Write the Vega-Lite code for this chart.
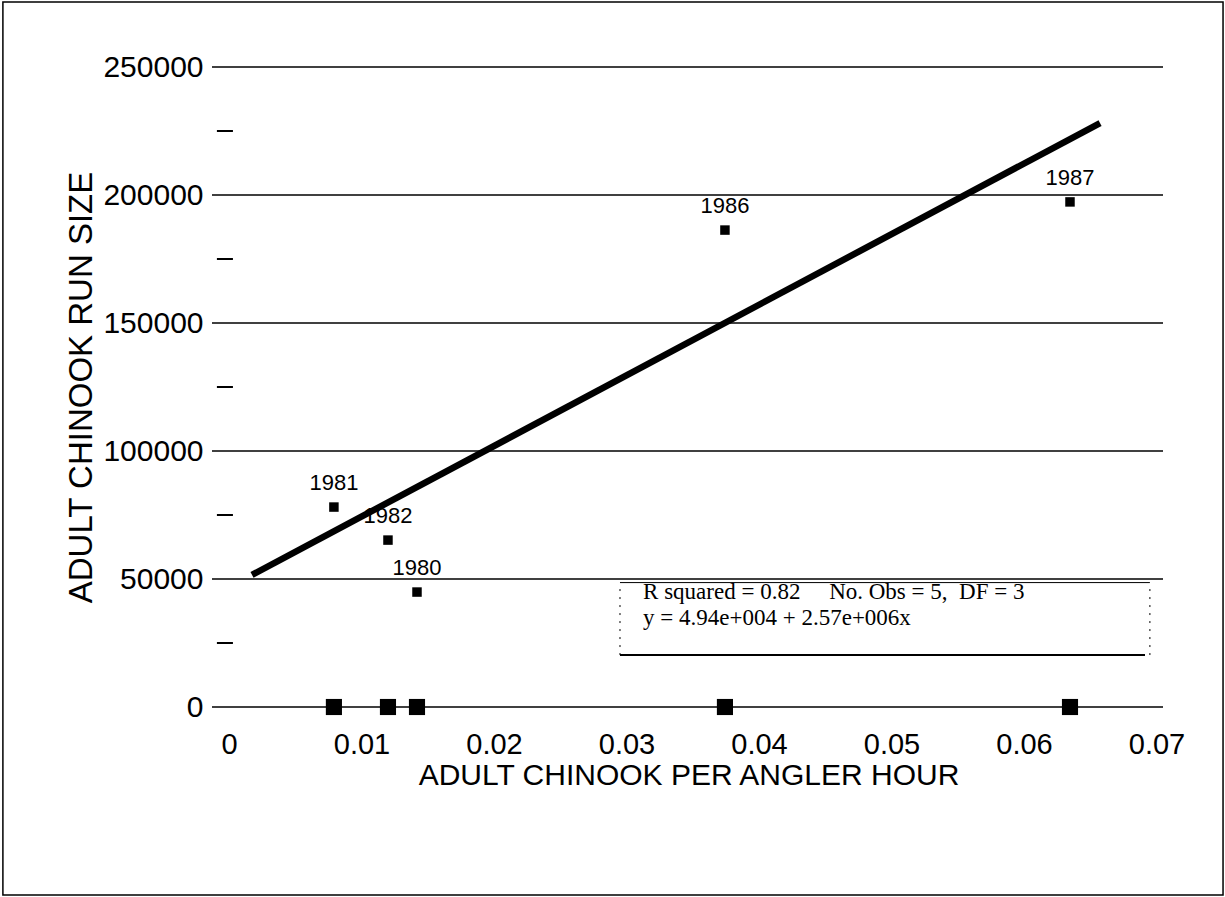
{
  "$schema": "https://vega.github.io/schema/vega-lite/v6.json",
  "width": 953,
  "height": 640,
  "autosize": {"type": "none"},
  "padding": {"left": 212, "top": 67, "right": 60, "bottom": 190},
  "background": "white",
  "config": {"view": {"stroke": null}, "font": "Liberation Sans"},
  "datasets": {
    "border": [{"x": -0.01706, "x2": 0.07502, "y": -73440, "y2": 275390}],
    "grid": [
      {"x": -0.00128, "x2": 0.07049, "y": 0},
      {"x": -0.00128, "x2": 0.07049, "y": 50000},
      {"x": -0.00128, "x2": 0.07049, "y": 100000},
      {"x": -0.00128, "x2": 0.07049, "y": 150000},
      {"x": -0.00128, "x2": 0.07049, "y": 200000},
      {"x": -0.00128, "x2": 0.07049, "y": 250000}
    ],
    "minor": [
      {"x": -0.00091, "x2": 0.0003, "y": 25000},
      {"x": -0.00091, "x2": 0.0003, "y": 75000},
      {"x": -0.00091, "x2": 0.0003, "y": 125000},
      {"x": -0.00091, "x2": 0.0003, "y": 175000},
      {"x": -0.00091, "x2": 0.0003, "y": 225000}
    ],
    "fit": [
      {"x": 0.00174, "y": 51600},
      {"x": 0.06574, "y": 228100}
    ],
    "obs": [
      {"year": "1980", "x": 0.01419, "y": 44900},
      {"year": "1981", "x": 0.00792, "y": 78100},
      {"year": "1982", "x": 0.012, "y": 65200},
      {"year": "1986", "x": 0.03743, "y": 186300},
      {"year": "1987", "x": 0.06347, "y": 197300}
    ],
    "rug": [
      {"x": 0.01419, "y": 0},
      {"x": 0.00792, "y": 0},
      {"x": 0.012, "y": 0},
      {"x": 0.03743, "y": 0},
      {"x": 0.06347, "y": 0}
    ],
    "boxlines": [
      {"x": 0.02951, "x2": 0.06913, "y": 20300, "w": 2},
      {"x": 0.02951, "x2": 0.0695, "y": 48600, "w": 1}
    ],
    "boxsides": [
      {"x": 0.02951, "y": 20300, "y2": 48000},
      {"x": 0.0695, "y": 20300, "y2": 48000}
    ],
    "notes": [
      {"x": 0.03125, "y": 44900, "label": "R squared = 0.82\u00a0\u00a0\u00a0\u00a0\u00a0No. Obs = 5,\u00a0\u00a0DF = 3"},
      {"x": 0.03125, "y": 34800, "label": "y = 4.94e+004 + 2.57e+006x"}
    ]
  },
  "encoding": {
    "x": {
      "field": "x",
      "type": "quantitative",
      "scale": {"domain": [-0.00128, 0.07064], "nice": false, "zero": false},
      "axis": {
        "values": [0, 0.01, 0.02, 0.03, 0.04, 0.05, 0.06, 0.07],
        "labelExpr": "datum.value == 0 ? '0' : format(datum.value, '.2f')",
        "domain": false,
        "ticks": false,
        "grid": false,
        "labelFont": "Liberation Sans",
        "labelFontSize": 29,
        "labelColor": "black",
        "labelPadding": 23,
        "labelFlush": false,
        "labelOverlap": false,
        "title": "ADULT CHINOOK PER ANGLER HOUR",
        "titleFont": "Liberation Sans",
        "titleFontSize": 30,
        "titleFontWeight": "normal",
        "titleColor": "black",
        "titlePadding": 1
      }
    },
    "y": {
      "field": "y",
      "type": "quantitative",
      "scale": {"domain": [0, 250000], "nice": false, "zero": false},
      "axis": {
        "values": [0, 50000, 100000, 150000, 200000, 250000],
        "labelExpr": "format(datum.value, 'd')",
        "domain": false,
        "ticks": false,
        "grid": false,
        "labelFont": "Liberation Sans",
        "labelFontSize": 30,
        "labelColor": "black",
        "labelPadding": 9,
        "labelFlush": false,
        "labelOverlap": false,
        "title": "ADULT CHINOOK RUN SIZE",
        "titleFont": "Liberation Sans",
        "titleFontSize": 33,
        "titleFontWeight": "normal",
        "titleColor": "black",
        "titlePadding": 4
      }
    }
  },
  "layer": [
    {
      "data": {"name": "border"},
      "mark": {"type": "rect", "fill": null, "stroke": "black", "strokeWidth": 1.5, "clip": false},
      "encoding": {"x2": {"field": "x2"}, "y2": {"field": "y2"}}
    },
    {
      "data": {"name": "grid"},
      "mark": {"type": "rule", "stroke": "black", "strokeWidth": 1.5},
      "encoding": {"x2": {"field": "x2"}}
    },
    {
      "data": {"name": "minor"},
      "mark": {"type": "rule", "stroke": "black", "strokeWidth": 2},
      "encoding": {"x2": {"field": "x2"}}
    },
    {
      "data": {"name": "boxlines"},
      "mark": {"type": "rule", "stroke": "black"},
      "encoding": {"x2": {"field": "x2"}, "strokeWidth": {"field": "w", "type": "quantitative", "scale": null}}
    },
    {
      "data": {"name": "boxsides"},
      "mark": {"type": "rule", "stroke": "black", "strokeWidth": 1, "strokeDash": [2, 6]},
      "encoding": {"y2": {"field": "y2"}}
    },
    {
      "data": {"name": "fit"},
      "mark": {"type": "line", "stroke": "black", "strokeWidth": 6.5, "strokeCap": "butt"},
      "encoding": {}
    },
    {
      "data": {"name": "obs"},
      "mark": {"type": "point", "shape": "square", "filled": true, "color": "black", "size": 90, "opacity": 1},
      "encoding": {}
    },
    {
      "data": {"name": "rug"},
      "mark": {"type": "point", "shape": "square", "filled": true, "color": "black", "size": 260, "opacity": 1},
      "encoding": {}
    },
    {
      "data": {"name": "obs"},
      "mark": {"type": "text", "font": "Liberation Sans", "fontSize": 22, "color": "black", "dy": -24, "align": "center", "baseline": "middle"},
      "encoding": {"text": {"field": "year"}}
    },
    {
      "data": {"name": "notes"},
      "mark": {"type": "text", "font": "Liberation Serif", "fontSize": 23, "color": "black", "align": "left", "baseline": "middle"},
      "encoding": {"text": {"field": "label"}}
    }
  ]
}
